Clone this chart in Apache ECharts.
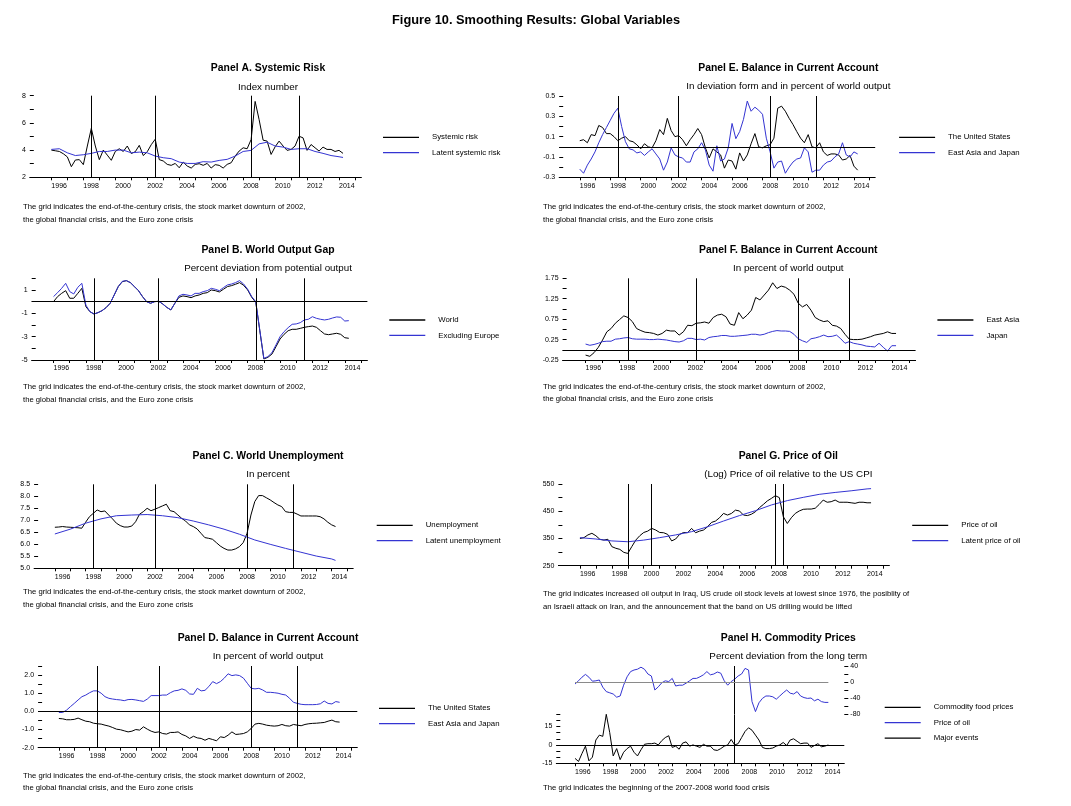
<!DOCTYPE html>
<html><head><meta charset="utf-8">
<script src="https://cdn.jsdelivr.net/npm/echarts@6/dist/echarts.min.js"></script>
<style>html,body{margin:0;padding:0;background:#fff}#c{width:1071px;height:806px}</style>
</head><body><div id="c"></div>
<script>
// ---------------- DATA ----------------
const TICK_YEARS = [1996,1997,1998,1999,2000,2001,2002,2003,2004,2005,2006,2007,2008,2009,2010,2011,2012,2013,2014,2015];
const LABEL_YEARS = [1996,1998,2000,2002,2004,2006,2008,2010,2012,2014];
const EVENTS_CRISIS = [1998.5, 2002.5, 2008.5, 2011.5];
const EVENTS_OIL = [1999.0, 2000.5, 2008.25, 2008.75];
const EVENTS_FOOD = [2007.5];

// Panel A – Systemic risk (quarterly from 1996Q1)
const A_systemic = [4.0,3.95,3.9,3.73, 3.5,2.78,3.27,3.3, 2.93,4.3,5.6,4.3, 3.3,4.0,3.63,3.25, 3.9,4.1,3.9,4.3,
  3.75,3.88,4.35,3.6, 3.88,4.4,4.8,3.3, 3.2,2.95,2.88,3.02, 2.7,3.12,2.83,2.68, 2.95,3.0,2.88,3.02,
  2.68,2.93,2.88,2.68, 2.95,3.07,3.56,3.93, 4.17,4.1,4.78,7.58, 6.24,4.73,4.66,3.68, 4.24,4.66,4.3,3.98,
  4.05,4.3,5.02,4.9, 3.98,4.41,4.17,3.93, 4.22,4.05,4.05,3.9, 3.98,3.76];
// semiannual from 1996.0 + final 2014Q2
const A_latent = [4.05,4.1,3.8,3.6,3.66,3.76,3.9,3.9,4.0,4.0,3.8,3.85,3.8,3.56,3.44,3.37,3.12,3.02,3.02,3.15,
  3.12,3.24,3.32,3.56,3.9,3.98,4.46,4.58,4.3,4.22,4.05,4.1,4.1,3.9,3.76,3.6,3.51,3.46];

// Panel B – World output gap (quarterly)
const B_world = [0.0,0.43,0.71,0.94, 0.29,0.29,0.71,1.14, -0.43,-0.86,-1.06,-0.94, -0.77,-0.51,-0.14,0.57,
  1.29,1.71,1.8,1.63, 1.29,0.94,0.43,0.0, -0.14,0.0,0.03,-0.2, -0.49,-0.71,-0.14,0.37, 0.49,0.43,0.34,0.49,
  0.57,0.71,0.77,1.0, 0.94,0.83,1.06,1.29, 1.37,1.49,1.63,1.4, 1.0,0.37,-0.06,-2.5, -4.91,-4.77,-4.49,-3.86,
  -3.2,-2.8,-2.49,-2.37, -2.37,-2.29,-2.2,-2.14, -2.09,-2.2,-2.49,-2.77, -2.83,-2.77,-2.71,-2.8, -3.09,-3.14];
const B_exEurope = [0.43,0.77,1.14,1.57, 0.86,0.66,1.23,1.57, -0.3,-0.86,-1.06,-0.94, -0.77,-0.51,-0.14,0.57,
  1.29,1.74,1.8,1.63, 1.29,0.94,0.43,0.0, -0.14,0.0,0.03,-0.2, -0.49,-0.71,-0.14,0.49, 0.63,0.57,0.49,0.71,
  0.71,0.86,0.94,1.14, 1.06,0.94,1.2,1.43, 1.51,1.63,1.8,1.51, 1.06,0.43,0.0,-2.45, -4.86,-4.71,-4.37,-3.71,
  -3.0,-2.57,-2.23,-1.94, -1.91,-1.8,-1.57,-1.51, -1.29,-1.43,-1.51,-1.57, -1.51,-1.4,-1.31,-1.34, -1.66,-1.63];

// Panel C – World unemployment
const C_unemp = [6.71,6.72,6.74,6.72, 6.71,6.7,6.69,6.67, 6.92,7.15,7.29,7.43, 7.36,7.39,7.22,7.06,
  6.88,6.78,6.72,6.72, 6.76,6.94,7.25,7.36, 7.5,7.4,7.46,7.53, 7.6,7.67,7.4,7.36, 7.22,7.08,6.97,6.81,
  6.74,6.64,6.46,6.28, 6.25,6.21,6.07,5.93, 5.83,5.76,5.76,5.81, 5.9,6.07,6.46,7.22, 7.78,8.03,8.03,7.94,
  7.85,7.74,7.64,7.57, 7.36,7.33,7.33,7.26, 7.18,7.18,7.18,7.18, 7.18,7.15,7.06,6.92, 6.81,6.74];
// annual from 1996 + final 2014Q2
const C_latent = [6.43,6.63,6.88,7.06,7.19,7.22,7.24,7.19,7.11,6.97,6.81,6.63,6.42,6.18,6.0,5.83,5.67,5.51,5.39,5.33];

// Panel D – Balance in current account, % of world output
const D_us = [-0.39,-0.41,-0.46,-0.46, -0.44,-0.37,-0.46,-0.54, -0.57,-0.65,-0.68,-0.7, -0.76,-0.81,-0.89,-0.98,
  -1.01,-1.07,-1.13,-1.09, -1.0,-1.03,-0.85,-0.98, -1.09,-1.16,-1.13,-1.22, -1.25,-1.16,-1.16,-1.13,
  -1.27,-1.35,-1.49,-1.37, -1.46,-1.49,-1.59,-1.49, -1.55,-1.62,-1.4,-1.44, -1.31,-1.13,-1.27,-1.25,
  -1.22,-1.13,-0.94,-0.7, -0.66,-0.7,-0.76,-0.79, -0.81,-0.79,-0.72,-0.79, -0.81,-0.72,-0.76,-0.79,
  -0.72,-0.68,-0.66,-0.65, -0.63,-0.61,-0.54,-0.48, -0.57,-0.59];
const D_eaj = [-0.06,-0.06,0.07,0.26, 0.44,0.63,0.81,0.9, 1.03,1.13,1.13,1.0, 0.81,0.72,0.68,0.65,
  0.63,0.59,0.65,0.66, 0.63,0.59,0.55,0.68, 0.87,0.87,0.87,0.9, 0.9,1.03,1.13,1.16, 1.24,1.16,0.96,0.94,
  1.27,1.13,1.16,1.37, 1.64,1.53,1.64,1.83, 2.07,1.97,2.01,1.97, 1.83,1.55,1.27,1.24, 1.27,1.18,1.05,1.05,
  1.03,1.0,0.94,0.9, 0.72,0.5,0.44,0.39, 0.37,0.37,0.37,0.38, 0.42,0.57,0.44,0.41, 0.54,0.5];

// Panel E – Balance in current account, deviation form
const E_us = [0.06,0.07,0.04,0.12, 0.11,0.21,0.19,0.13, 0.13,0.10,0.06,0.085, 0.10,0.06,0.05,0.02,
  -0.02,0.03,0.0,-0.01, 0.06,0.17,0.12,0.28, 0.16,0.10,0.11,0.07, 0.01,0.07,0.12,0.18, 0.12,-0.01,-0.11,-0.02,
  -0.05,-0.08,-0.21,-0.13, -0.14,-0.22,-0.06,-0.14, -0.08,0.03,0.13,0.0, -0.01,0.01,0.02,0.085,
  0.38,0.40,0.35,0.28, 0.22,0.15,0.085,0.04, 0.12,0.0,-0.01,0.04, -0.05,-0.085,-0.07,-0.07,
  -0.08,-0.13,-0.12,-0.085, -0.19,-0.23];
const E_eaj = [-0.22,-0.26,-0.18,-0.12, -0.05,0.04,0.12,0.19, 0.26,0.33,0.38,0.2, 0.05,-0.02,-0.03,-0.06,
  -0.05,-0.085,-0.05,-0.02, -0.07,-0.12,-0.23,-0.15, -0.01,-0.08,-0.1,-0.11, -0.15,-0.15,-0.05,-0.02,
  0.04,-0.03,-0.18,-0.24, 0.01,-0.14,-0.12,-0.01, 0.23,0.08,0.15,0.27, 0.45,0.35,0.39,0.36,
  0.32,0.085,-0.05,-0.21, -0.15,-0.14,-0.26,-0.2, -0.15,-0.12,-0.11,-0.01, -0.05,-0.25,-0.23,-0.23,
  -0.18,-0.15,-0.14,-0.1, -0.07,0.04,-0.08,-0.1, -0.05,-0.07];

// Panel F – East Asia and Japan
const F_eastAsia = [-0.13,-0.16,-0.07,0.06, 0.24,0.44,0.52,0.65, 0.74,0.83,0.79,0.69, 0.52,0.47,0.43,0.42,
  0.4,0.36,0.4,0.48, 0.46,0.46,0.36,0.44, 0.6,0.59,0.65,0.66, 0.68,0.65,0.79,0.85, 0.87,0.81,0.63,0.6,
  0.91,0.76,0.85,0.97, 1.28,1.22,1.34,1.46, 1.64,1.5,1.56,1.53, 1.46,1.36,1.14,1.05, 1.11,0.97,0.79,0.73,
  0.69,0.71,0.6,0.58, 0.52,0.38,0.26,0.25, 0.25,0.26,0.29,0.32, 0.36,0.38,0.4,0.44, 0.4,0.4];
const F_japan = [0.14,0.11,0.13,0.16, 0.2,0.21,0.21,0.26, 0.27,0.29,0.3,0.27, 0.26,0.26,0.26,0.25,
  0.25,0.26,0.25,0.24, 0.22,0.2,0.19,0.22, 0.28,0.28,0.25,0.26, 0.24,0.3,0.32,0.33, 0.35,0.35,0.33,0.33,
  0.34,0.35,0.36,0.38, 0.38,0.36,0.38,0.42, 0.45,0.47,0.46,0.46, 0.45,0.38,0.27,0.22, 0.18,0.27,0.29,0.32,
  0.36,0.32,0.33,0.36, 0.27,0.16,0.2,0.16, 0.14,0.12,0.09,0.08, 0.07,0.16,0.06,-0.03, 0.1,0.1];

// Panel G – Price of oil (log, relative to US CPI)
const G_oil = [350,353,363,369, 360,347,344,347, 320,314,310,299, 295,320,344,360, 372,377,387,381,
  372,371,365,341, 348,365,372,371, 387,371,377,381, 393,409,414,426, 442,436,442,454, 451,436,434,439,
  448,463,475,488, 497,507,500,430, 405,426,442,451, 457,458,458,461, 475,491,483,485, 491,483,483,483,
  481,479,483,483, 481,481];
const G_latent = [353,348,341,338,344,353,363,375,393,414,434,452,473,489,501,512,519,525,532,533];

// Panel H – Commodity prices
const H_oil = [-5,3,12,19, 12,2,3,5, -13,-24,-27,-30, -38,-35,-8,13, 26,30,32,37, 32,20,15,-20,
  -12,-2,3,1, 9,-10,-8,-8, -3,3,9,9, 13,18,26,18, 20,25,22,3, -8,1,7,15, 20,34,30,-49,
  -74,-52,-41,-35, -35,-37,-43,-35, -27,-20,-28,-30, -24,-35,-39,-41, -40,-47,-43,-49, -51,-51];
const H_food = [-11,-13.5,-7,-1, -13,-10,4,8, 7,25,10,-9, -3,-12,-6,-3, -1,-6,-9,-4, 0.5,1,1,1.5,
  0,3.5,6,7.5, -2,-1,-3.5,1.5, 2.5,-1,0,-1, -2,0.5,-1,-1, -4,-4.5,-3,-1, 0,4.5,0,1, 6,11,14,12,
  8,4,-2,-3, -3,-2.5,-1,0, 2,-0.5,4,5, 3,1,1.5,1.5, -2,-0.5,1,-1.5, -1,0];

// time bases
const QX = []; for (let i = 0; i < 74; i++) QX.push(1996 + i * 0.25);
const HX = []; for (let i = 0; i <= 36; i++) HX.push(1996 + i * 0.5); HX.push(2014.25);
const YX = []; for (let y = 1996; y <= 2014; y++) YX.push(y); YX.push(2014.25);
const pair = (xs, vs) => vs.map((v, i) => [xs[i], v]);

// ---------------- STYLE / LAYOUT ----------------
const FONT = '"Liberation Sans Narrow","Arial Narrow","Liberation Sans",Arial,sans-serif';
const BLACK = '#000000', BLUE = '#3434d2', GRAY = '#8a8a8a';
const XMIN = 1994.65, XMAX = 2015.4;
const FS_MAIN = 12.8, FS_TITLE = 10.4, FS_SUB = 9.8, FS_NOTE = 7.7, FS_LEG = 7.8, FS_TICK = 7;

const GRIDS = [
  [29.8, 95.7, 331.6, 81.6],   // A
  [31.7, 278.3, 335.7, 81.7],  // B
  [34.1, 484.3, 319.1, 84],    // C
  [38.1, 666, 319.2, 81.7],    // D
  [559.2, 96, 316, 81.3],      // E
  [562.6, 278.3, 353, 81.7],   // F
  [558.4, 484, 331, 81.7],     // G
  [556.3, 666, 288, 48],       // H top
  [556.3, 714.3, 288, 49]      // H bottom
];

const YAXES = [
  {min:2, max:8, ticks:[2,3,4,5,6,7,8], labels:[2,4,6,8], dec:0},
  {min:-5, max:2, ticks:[-5,-4,-3,-2,-1,0,1,2], labels:[-5,-3,-1,1], dec:0},
  {min:5, max:8.5, ticks:[5,5.5,6,6.5,7,7.5,8,8.5], labels:[5,5.5,6,6.5,7,7.5,8,8.5], dec:1},
  {min:-2, max:2.5, ticks:[-2,-1.5,-1,-0.5,0,0.5,1,1.5,2,2.5], labels:[-2,-1,0,1,2], dec:1},
  {min:-0.3, max:0.5, ticks:[-0.3,-0.2,-0.1,0,0.1,0.2,0.3,0.4,0.5], labels:[-0.3,-0.1,0.1,0.3,0.5], dec:1},
  {min:-0.25, max:1.75, ticks:[-0.25,0,0.25,0.5,0.75,1,1.25,1.5,1.75], labels:[-0.25,0.25,0.75,1.25,1.75], dec:2},
  {min:250, max:550, ticks:[250,300,350,400,450,500,550], labels:[250,350,450,550], dec:0},
  {min:-80, max:40, ticks:[-80,-60,-40,-20,0,20,40], labels:[-80,-40,0,40], dec:0, right:true},
  {min:-15, max:25, ticks:[-15,-10,-5,0,5,10,15,20,25], labels:[-15,0,15], dec:0}
];

const TITLES = [
  ['Panel A. Systemic Risk', 268, 68], ['Panel B. World Output Gap', 268, 250],
  ['Panel C. World Unemployment', 268, 456], ['Panel D. Balance in Current Account', 268, 638.3],
  ['Panel E. Balance in Current Account', 788.3, 68.3], ['Panel F. Balance in Current Account', 788.3, 250],
  ['Panel G. Price of Oil', 788.3, 456], ['Panel H. Commodity Prices', 788.3, 638.3]
];
const SUBTITLES = [
  ['Index number', 268, 87], ['Percent deviation from potential output', 268, 268.3],
  ['In percent', 268, 474.3], ['In percent of world output', 268, 656.7],
  ['In deviation form and in percent of world output', 788.3, 86.7], ['In percent of world output', 788.3, 268.3],
  ['(Log) Price of oil relative to the US CPI', 788.3, 474.3], ['Percent deviation from the long term', 788.3, 656.7]
];
const NOTE_CRISIS = 'The grid indicates the end-of-the-century crisis, the stock market downturn of 2002,\nthe global financial crisis, and the Euro zone crisis';
const NOTE_OIL = 'The grid indicates increased oil output in Iraq, US crude oil stock levels at lowest since 1976, the posiblity of\nan Israeli attack on Iran, and the announcement that the band on US drilling would be lifted';
const NOTE_FOOD = 'The grid indicates the beginning of the 2007-2008 world food crisis';
const NOTES = [
  [NOTE_CRISIS, 23, 201.1], [NOTE_CRISIS, 23, 381.1], [NOTE_CRISIS, 23, 586.1], [NOTE_CRISIS, 23, 769.5],
  [NOTE_CRISIS, 543, 201.1], [NOTE_CRISIS, 543, 380.5], [NOTE_OIL, 543, 587.8], [NOTE_FOOD, 543, 782.1]
];
const LEGENDS = [
  [383, 132.3, [['Systemic risk', BLACK], ['Latent systemic risk', BLUE]]],
  [389.3, 315, [['World', BLACK], ['Excluding Europe', BLUE]]],
  [376.7, 520.3, [['Unemployment', BLACK], ['Latent unemployment', BLUE]]],
  [379, 703.3, [['The United States', BLACK], ['East Asia and Japan', BLUE]]],
  [899.1, 132.3, [['The United States', BLACK], ['East Asia and Japan', BLUE]]],
  [937.4, 315, [['East Asia', BLACK], ['Japan', BLUE]]],
  [912.2, 520.3, [['Price of oil', BLACK], ['Latent price of oil', BLUE]]],
  [884.7, 702.3, [['Commodity food prices', BLACK], ['Price of oil', BLUE], ['Major events', BLACK]]]
];

// ---------------- BUILD ----------------
const grid = GRIDS.map(g => ({left:g[0], top:g[1], width:g[2], height:g[3], containLabel:false, outerBoundsMode:'none'}));

const xAxis = GRIDS.map((g, i) => ({
  type:'value', gridIndex:i, min:XMIN, max:XMAX, show: i !== 7,
  axisLine:{show:true, onZero:false, lineStyle:{color:BLACK, width:1}},
  axisTick:{show:true, customValues:TICK_YEARS, length:3, lineStyle:{color:BLACK, width:1}},
  axisLabel:{show:true, customValues:LABEL_YEARS, align:'left', margin:5, fontSize:FS_TICK, fontFamily:FONT, color:BLACK,
    formatter:v => String(Math.round(v))},
  splitLine:{show:false}
}));

const yAxis = YAXES.map((a, i) => ({
  type:'value', gridIndex:i, min:a.min, max:a.max, position: a.right ? 'right' : 'left',
  axisLine:{show:false, onZero:false},
  axisTick:{show:true, inside: !a.right, length:4, customValues:a.ticks, lineStyle:{color:BLACK, width:1}},
  axisLabel:{show:true, customValues:a.labels, margin: a.right ? 6 : 4, fontSize:FS_TICK, fontFamily:FONT, color:BLACK,
    formatter:v => Number(v).toFixed(a.dec)},
  splitLine:{show:false}
}));

function ml(events, zero, extra) {
  const data = events.map(x => ({xAxis:x}));
  if (zero) data.push({yAxis:0});
  if (extra) extra.forEach(e => data.push(e));
  return {silent:true, symbol:['none','none'], animation:false, label:{show:false},
    emphasis:{disabled:true}, lineStyle:{color:BLACK, width:1, type:'solid'}, data};
}
function line(name, xs, vs, color, gi, markLine) {
  const s = {type:'line', name, data:pair(xs, vs), xAxisIndex:gi, yAxisIndex:gi, symbol:'none', showSymbol:false,
    color, lineStyle:{color, width:1}, itemStyle:{color}, silent:true, animation:false, z:2};
  if (markLine) s.markLine = markLine;
  return s;
}

const series = [
  line('Systemic risk', QX, A_systemic, BLACK, 0, ml(EVENTS_CRISIS, false)),
  line('Latent systemic risk', HX, A_latent, BLUE, 0),
  line('World', QX, B_world, BLACK, 1, ml(EVENTS_CRISIS, true)),
  line('Excluding Europe', QX, B_exEurope, BLUE, 1),
  line('Unemployment', QX, C_unemp, BLACK, 2, ml(EVENTS_CRISIS, false)),
  line('Latent unemployment', YX, C_latent, BLUE, 2),
  line('The United States', QX, D_us, BLACK, 3, ml(EVENTS_CRISIS, true)),
  line('East Asia and Japan', QX, D_eaj, BLUE, 3),
  line('The United States', QX, E_us, BLACK, 4, ml(EVENTS_CRISIS, true)),
  line('East Asia and Japan', QX, E_eaj, BLUE, 4),
  line('East Asia', QX, F_eastAsia, BLACK, 5, ml(EVENTS_CRISIS, true)),
  line('Japan', QX, F_japan, BLUE, 5),
  line('Price of oil', QX, G_oil, BLACK, 6, ml(EVENTS_OIL, false)),
  line('Latent price of oil', YX, G_latent, BLUE, 6),
  line('Price of oil', QX, H_oil, BLUE, 7, ml(EVENTS_FOOD, false, [[
    {coord:[QX[0], 0], lineStyle:{color:GRAY, width:1.2}},
    {coord:[QX[QX.length - 1], 0], lineStyle:{color:GRAY, width:1.2}}]])),
  line('Commodity food prices', QX, H_food, BLACK, 8, ml(EVENTS_FOOD, true)),
  line('Major events', [], [], BLACK, 8)
];

const title = [{text:'Figure 10. Smoothing Results: Global Variables', left:536, top:20, textAlign:'center',
  textVerticalAlign:'middle', padding:0, textStyle:{fontFamily:FONT, fontSize:FS_MAIN, fontWeight:'bold', color:BLACK}}];
TITLES.forEach(t => title.push({text:t[0], left:t[1], top:t[2], textAlign:'center', textVerticalAlign:'middle', padding:0,
  textStyle:{fontFamily:FONT, fontSize:FS_TITLE, fontWeight:'bold', color:BLACK}}));
SUBTITLES.forEach(t => title.push({text:t[0], left:t[1], top:t[2], textAlign:'center', textVerticalAlign:'middle', padding:0,
  textStyle:{fontFamily:FONT, fontSize:FS_SUB, fontWeight:'normal', color:BLACK}}));
NOTES.forEach(t => title.push({text:t[0], left:t[1], top:t[2], textAlign:'left', textVerticalAlign:'top', padding:0,
  textStyle:{fontFamily:FONT, fontSize:FS_NOTE, fontWeight:'normal', color:BLACK, lineHeight:12.4}}));

const legend = LEGENDS.map(l => ({
  orient:'vertical', left:l[0], top:l[1], padding:0, itemGap:5.4, itemWidth:36, itemHeight:1.3, icon:'rect',
  selectedMode:false, align:'left',
  textStyle:{fontFamily:FONT, fontSize:FS_LEG, color:BLACK, lineHeight:10, padding:[0,0,0,8]},
  data:l[2].map(it => ({name:it[0], icon:'rect', itemStyle:{color:it[1], borderWidth:0}, lineStyle:{color:it[1]}}))
}));

const chart = echarts.init(document.getElementById('c'), null, {renderer:'canvas'});
chart.setOption({backgroundColor:'#ffffff', animation:false, title, legend, grid, xAxis, yAxis, series, tooltip:{show:false}});
</script></body></html>
